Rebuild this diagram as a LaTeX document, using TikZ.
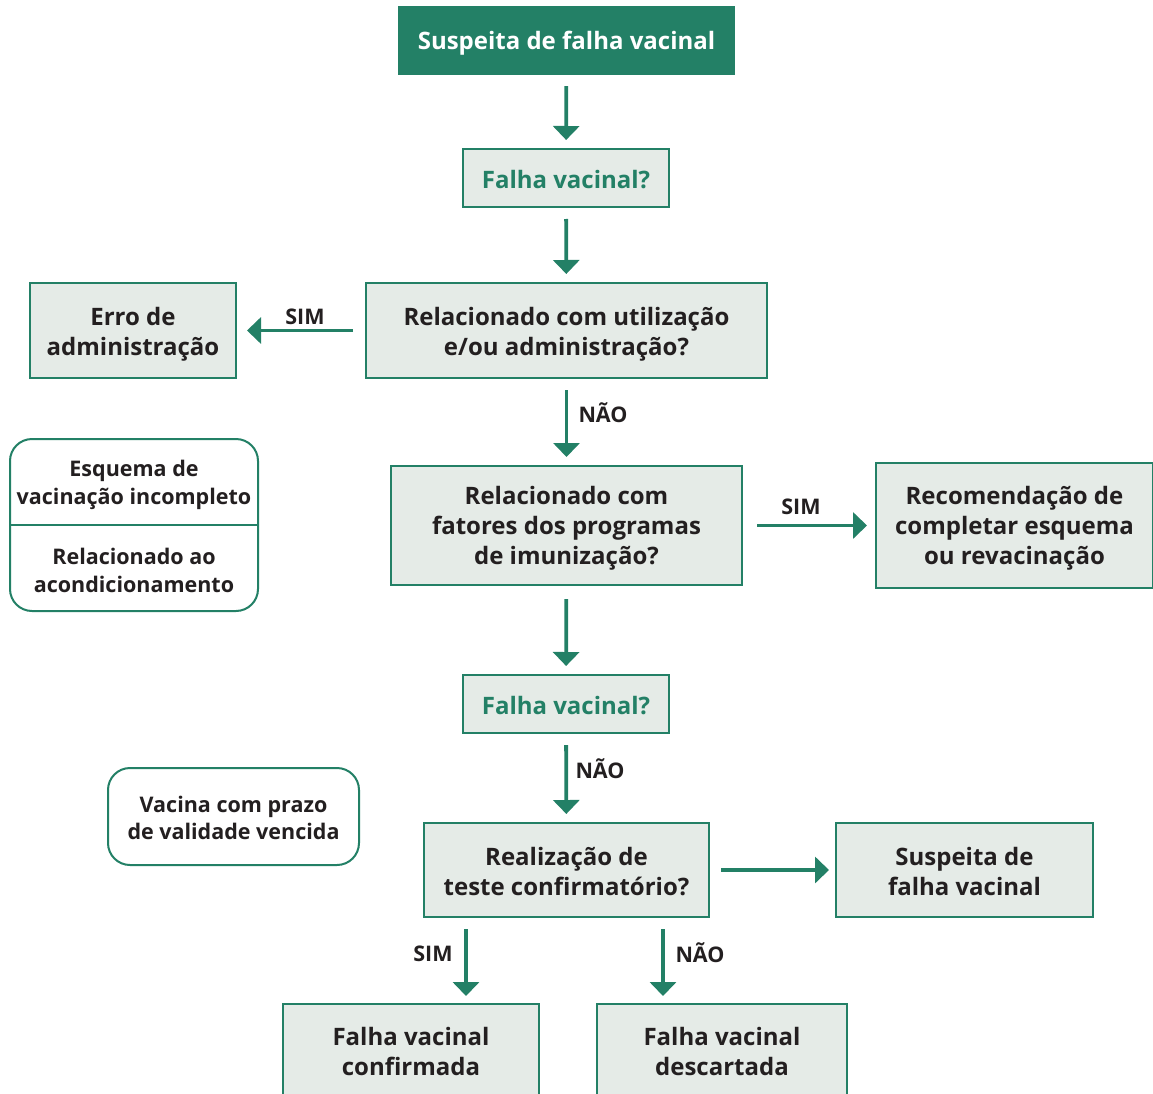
\documentclass[tikz,border=0pt]{standalone}
\usepackage{fontspec}
\setmainfont{Open Sans}
\usetikzlibrary{arrows.meta,calc}
\definecolor{vgreen}{HTML}{238066}
\definecolor{vfill}{HTML}{E5EBE7}
\definecolor{vtext}{HTML}{231F20}

\begin{document}
\begin{tikzpicture}[x=1pt,y=-1pt,
  box/.style={draw=vgreen, line width=2pt, fill=vfill, inner sep=0pt},
  headbox/.style={fill=vgreen, inner sep=0pt},
  btext/.style={text=vtext, align=center, font=\bfseries\fontsize{24}{30}\selectfont, inner sep=0pt},
  roundbox/.style={draw=vgreen, line width=2pt, fill=white, rounded corners=22pt, inner sep=0pt},
  inner/.style={text=vtext, align=center, font=\bfseries\fontsize{21.5}{28}\selectfont, inner sep=0pt},
  flow/.style={draw=vgreen, line width=3.8pt, -{Triangle[width=26pt,length=14pt]},
    shorten <=11pt, shorten >=8pt},
  lbl/.style={text=vtext, font=\bfseries\fontsize{21.5}{24}\selectfont, inner sep=0pt}
]
\useasboundingbox (0,0) rectangle (1153,1094);

% boxes of the main flow
\node[headbox, minimum width=337pt, minimum height=69pt] (start) at (566.5,40.5) {};
\node[box, minimum width=206pt, minimum height=58pt] (fv1) at (566,178) {};
\node[box, minimum width=401pt, minimum height=95pt] (uso) at (566.5,330.5) {};
\node[box, minimum width=206pt, minimum height=95pt] (erro) at (133,330.5) {};
\node[box, minimum width=351pt, minimum height=119pt] (prog) at (566.5,525.5) {};
\node[box, minimum width=277pt, minimum height=125pt] (recom) at (1014.5,525.5) {};
\node[box, minimum width=206pt, minimum height=58pt] (fv2) at (566,704) {};
\node[box, minimum width=285pt, minimum height=94pt] (teste) at (566.5,870) {};
\node[box, minimum width=257pt, minimum height=94pt] (susp) at (964.5,870) {};
\node[box, minimum width=256pt, minimum height=100pt] (conf) at (411,1054) {};
\node[box, minimum width=250pt, minimum height=100pt] (desc) at (722,1054) {};

% box texts
\node[btext, text=white] (startT) at (566.5,43.5) {Suspeita de falha vacinal};
\node[btext, text=vgreen] (fv1T) at (566,180) {Falha vacinal?};
\node[btext] (usoT) at (566.5,334) {Relacionado com utilização\\e/ou administração?};
\node[btext] (erroT) at (133,334) {Erro de\\administração};
\node[btext] (progT) at (566.5,528.5) {Relacionado com\\fatores dos programas\\de imunização?};
\node[btext] (recomT) at (1014.5,528.5) {Recomendação de\\completar esquema\\ou revacinação};
\node[btext, text=vgreen] (fv2T) at (566,706) {Falha vacinal?};
\node[btext] (testeT) at (566.5,871.5) {Realização de\\teste confirmatório?};
\node[btext] (suspT) at (964.5,871) {Suspeita de\\falha vacinal};
\node[btext] (confT) at (411,1051) {Falha vacinal\\confirmada};
\node[btext] (descT) at (722,1051) {Falha vacinal\\descartada};

% side groups
\node[roundbox, minimum width=248pt, minimum height=172pt] (grp) at (134,525) {};
\draw[vgreen, line width=2pt] (grp.west |- 0,525) -- (grp.east |- 0,525);
\node[inner] (grpA) at (134,485) {Esquema de\\vacinação incompleto};
\node[inner] (grpB) at (134,570) {Relacionado ao\\acondicionamento};
\node[roundbox, minimum width=251pt, minimum height=97pt] (prazo) at (233.5,816.5) {};
\node[inner, font=\bfseries\fontsize{21.5}{27}\selectfont] (prazoT) at (233.5,818) {Vacina com prazo\\de validade vencida};

% connectors
\draw[flow] (start) -- (fv1);
\draw[flow] (fv1) -- (uso);
\draw[flow, shorten <=12pt, shorten >=10pt] (uso) -- (erro);
\draw[flow] (uso) -- (prog);
\draw[flow, shorten <=14pt] (prog) -- (recom);
\draw[flow, shorten <=13pt] (prog) -- (fv2);
\draw[flow] (fv2) -- (teste);
\draw[flow, shorten >=6pt] (teste) -- (susp);
\coordinate (simA) at ($(teste.south)+(-100.5,0)$);
\coordinate (naoA) at ($(teste.south)+(96.5,0)$);
\draw[flow, shorten >=7pt] (simA) -- (conf.north -| simA);
\draw[flow, shorten >=7pt] (naoA) -- (desc.north -| naoA);

% connector labels
\node[lbl] (l1) at (305,317) {SIM};
\node[lbl] (l2) at (603,413) {NÃO};
\node[lbl] (l3) at (801,507) {SIM};
\node[lbl] (l4) at (600,769) {NÃO};
\node[lbl] (l5) at (433,954) {SIM};
\node[lbl] (l6) at (700,953) {NÃO};
\end{tikzpicture}
\end{document}
